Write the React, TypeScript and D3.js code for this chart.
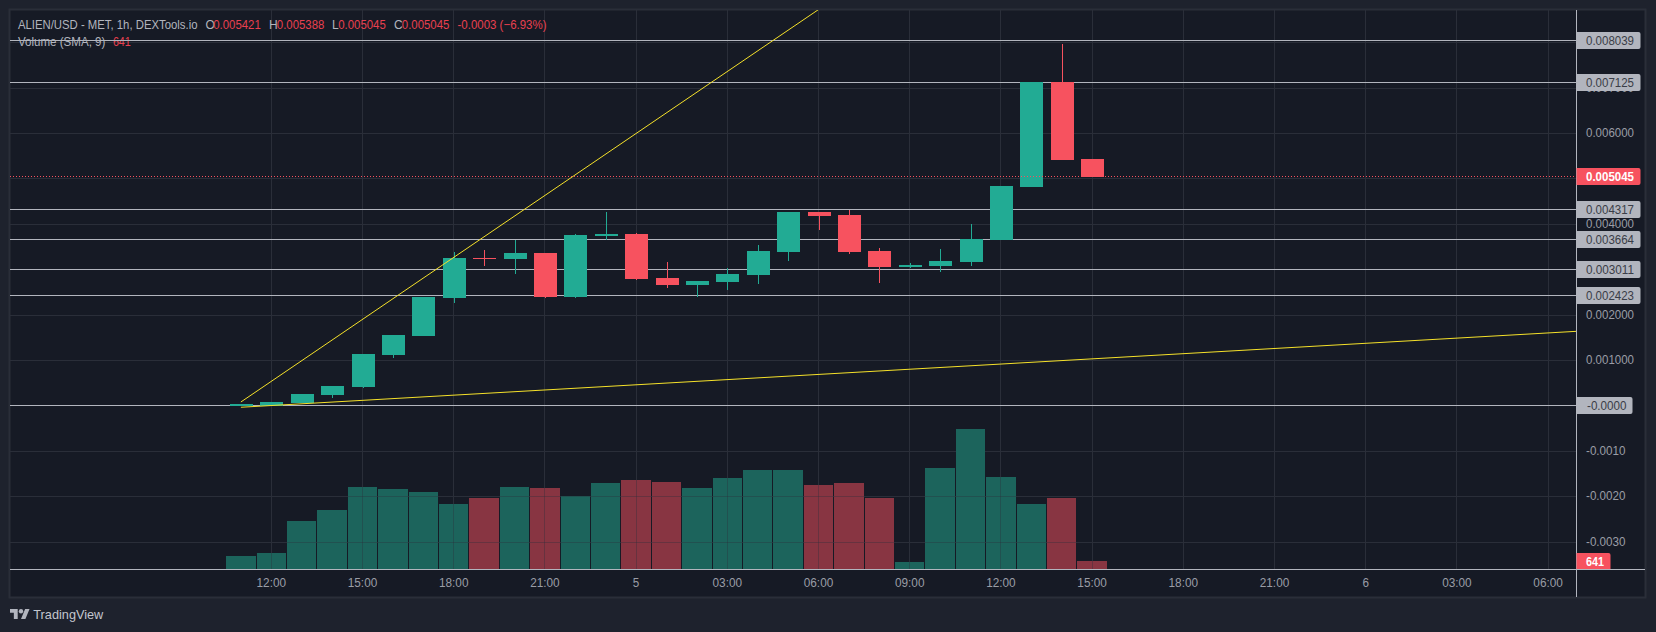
import React from "react";
import * as d3 from "d3";

// hours are offsets from 12:00 on the first day
const candleHours = [-1,0,1,2,3,4,5,6,7,8,9,10,11,12,13,14,15,16,17,18,19,20,21,22,23,24,25,26,27];
const opens  = [0.000000,0.000000,0.000064,0.000240,0.000416,0.001121,0.001540,0.002383,0.003255,0.003236,0.003368,0.002399,0.003742,0.003786,0.002817,0.002663,0.002729,0.002883,0.003390,0.004271,0.004205,0.003412,0.003059,0.003081,0.003170,0.003654,0.004822,0.007134,0.005445];
const highs  = [0.000050,0.000086,0.000262,0.000438,0.001143,0.001562,0.002399,0.003390,0.003434,0.003654,0.003368,0.003786,0.004271,0.003808,0.003170,0.002751,0.003038,0.003544,0.004271,0.004271,0.004315,0.003478,0.003148,0.003456,0.004007,0.004844,0.007134,0.007971,0.005445];
const lows   = [0.000000,0.000000,0.000064,0.000174,0.000394,0.001055,0.001540,0.002273,0.003081,0.002912,0.002377,0.002377,0.003654,0.002773,0.002597,0.002399,0.002553,0.002685,0.003192,0.003874,0.003346,0.002707,0.003037,0.002949,0.003081,0.003654,0.004822,0.005416,0.005045];
const closes = [0.000042,0.000086,0.000262,0.000438,0.001143,0.001562,0.002399,0.003258,0.003245,0.003368,0.002399,0.003764,0.003786,0.002795,0.002663,0.002751,0.002905,0.003412,0.004271,0.004183,0.003390,0.003059,0.003103,0.003192,0.003676,0.004844,0.007134,0.005416,0.005045];
const volumes = [1040,1280,3840,4720,6560,6400,6160,5200,5680,6560,6480,5840,6880,7120,6960,6480,7280,7920,7920,6720,6880,5680,560,8080,11200,7360,5200,5680,641];

const priceTicks = [0.008,0.007,0.006,0.005,0.004,0.003,0.002,0.001,0,-0.001,-0.002,-0.003];
const priceTickLabels = ["0.008000","0.007000","0.006000","0.005000","0.004000","0.003000","0.002000","0.001000","","-0.0010","-0.0020","-0.0030"];
const levelPrices = [0.008039,0.007125,0.004317,0.003664,0.003011,0.002423,0];
const levelLabels = ["0.008039","0.007125","0.004317","0.003664","0.003011","0.002423","-0.0000"];
const lastPrice = 0.005045;
const lastPriceLabel = "0.005045";
const lastVolumeLabel = "641";

const timeTickHours = [0,3,6,9,12,15,18,21,24,27,30,33,36,39,42];
const timeTickLabels = ["12:00","15:00","18:00","21:00","5","03:00","06:00","09:00","12:00","15:00","18:00","21:00","6","03:00","06:00"];

const trendSteepHours = [-1,20];
const trendSteepPrices = [0.000086,0.00964];
const trendFlatHours = [-1,42.94];
const trendFlatPrices = [-0.00003,0.001643];

const C = {
  page: "#1e222d", pane: "#161a25", grid: "#2a2e39", axis: "#b2b5be", text: "#9a9da6",
  up: "#22ab94", down: "#f7525f", upVol: "#1c645c", downVol: "#883542", yellow: "#f5e12a",
  legendRed: "#e8404f", boxText: "#3a3d47",
};
const FONT = "'Liberation Sans', Arial, sans-serif";

const L = 10, R = 1577, TOP = 10, B = 597, AXISY = 569, FR = 1645;

const x = d3.scaleLinear().domain([0, 42]).range([271.3, 1548.1]);
const y = d3.scaleLinear().domain([0, 0.008]).range([405.9, 42.7]);
const vol = d3.scaleLinear().domain([0, 11200]).range([AXISY, AXISY - 140]);
const snap = (v: number) => Math.round(v - 0.5) + 0.5;

const trendLine = d3.line<[number, number]>().x((d) => x(d[0])).y((d) => y(d[1]));

// text squeezed to the width it has in the reference
function T({ px, py, w, children, fill, size = 12.5, weight }: any) {
  return (
    <text x={px} y={py} fill={fill} fontSize={size} fontFamily={FONT} fontWeight={weight}
      textLength={w} lengthAdjust="spacingAndGlyphs">{children}</text>
  );
}

const axisWidth = (s: string) => (s.length === 8 ? 48 : s.length === 7 ? 39.5 : 18);

export default function App() {
  const ohlc = [
    ["O", "0.005421", 205.4, 213.2],
    ["H", "0.005388", 269, 276.8],
    ["L", "0.005045", 332, 338.2],
    ["C", "0.005045", 393.9, 401.8],
  ] as const;
  return (
    <svg width={1656} height={632} style={{ position: "absolute", left: 0, top: 0, display: "block" }}>
      <defs>
        <clipPath id="pane"><rect x={L} y={TOP} width={R - L} height={AXISY - TOP} /></clipPath>
      </defs>
      <rect width={1656} height={632} fill={C.page} />
      <rect x={L - 0.5} y={TOP - 0.5} width={FR - L + 1} height={B - TOP + 1} fill={C.pane} stroke={C.grid} strokeWidth={2} />

      {/* grid */}
      <g stroke={C.grid} strokeWidth={1} shapeRendering="crispEdges">
        {priceTicks.map((p) => <line key={p} x1={L} x2={R} y1={snap(y(p))} y2={snap(y(p))} />)}
        {timeTickHours.map((h) => <line key={h} x1={snap(x(h))} x2={snap(x(h))} y1={TOP} y2={AXISY} />)}
      </g>

      {/* volume */}
      <g shapeRendering="crispEdges">
        {volumes.map((v, i) => (
          <rect key={i} x={x(candleHours[i]) - 14.7} width={29.4} y={vol(v)} height={AXISY - vol(v)}
            fill={closes[i] >= opens[i] ? C.upVol : C.downVol} />
        ))}
      </g>
      <g stroke={C.grid} strokeOpacity={0.35} strokeWidth={1} shapeRendering="crispEdges">
        {timeTickHours.map((h) => <line key={h} x1={snap(x(h))} x2={snap(x(h))} y1={400} y2={AXISY} />)}
        {[-0.002, -0.003].map((p) => <line key={p} x1={L} x2={R} y1={snap(y(p))} y2={snap(y(p))} />)}
      </g>

      {/* legend sits under the drawn levels */}
      <T px={17.9} py={29} w={179.6} fill={C.axis}>ALIEN/USD - MET, 1h, DEXTools.io</T>
      {ohlc.map(([k, v, kx, vx]) => (
        <g key={k}>
          <T px={kx} py={29} fill={C.axis} size={12}>{k}</T>
          <T px={vx} py={29} w={47.6} fill={C.legendRed}>{v}</T>
        </g>
      ))}
      <T px={457.5} py={29} w={89} fill={C.legendRed}>-0.0003 (−6.93%)</T>
      <T px={17.9} py={46} w={87.5} fill={C.axis}>Volume (SMA, 9)</T>
      <T px={112.9} py={46} w={17.9} fill={C.legendRed}>641</T>

      {/* levels */}
      <g stroke={C.axis} strokeWidth={1} shapeRendering="crispEdges">
        {levelPrices.map((p) => <line key={p} x1={L} x2={R} y1={snap(y(p))} y2={snap(y(p))} />)}
      </g>

      {/* candles */}
      <g shapeRendering="crispEdges">
        {candleHours.map((h, i) => {
          const up = closes[i] >= opens[i];
          const col = up ? C.up : C.down;
          const top = y(Math.max(opens[i], closes[i]));
          const bot = y(Math.min(opens[i], closes[i]));
          const cx = Math.round(x(h));
          return (
            <g key={i}>
              <line x1={cx + 0.5} x2={cx + 0.5} y1={y(highs[i])} y2={y(lows[i])} stroke={col} strokeWidth={1} />
              <rect x={cx - 11} width={23} y={top} height={Math.max(bot - top, 1)} fill={col} />
            </g>
          );
        })}
      </g>

      {/* trend lines */}
      <g clipPath="url(#pane)" fill="none" stroke={C.yellow} strokeWidth={1}>
        <path d={trendLine(trendSteepHours.map((h, i) => [h, trendSteepPrices[i]] as [number, number])) ?? ""} />
        <path d={trendLine(trendFlatHours.map((h, i) => [h, trendFlatPrices[i]] as [number, number])) ?? ""} />
      </g>

      {/* last price */}
      <line x1={L} x2={R} y1={snap(y(lastPrice))} y2={snap(y(lastPrice))} stroke={C.down} strokeWidth={1} strokeDasharray="1 2" shapeRendering="crispEdges" />

      {/* axes */}
      <g stroke={C.axis} strokeWidth={1} shapeRendering="crispEdges">
        <line x1={L} x2={FR} y1={AXISY + 0.5} y2={AXISY + 0.5} />
        <line x1={R - 0.5} x2={R - 0.5} y1={TOP} y2={B} />
      </g>

      {/* price axis */}
      {priceTicks.map((p, i) =>
        priceTickLabels[i] ? (
          <T key={p} px={1586} py={y(p) + 3.6} w={axisWidth(priceTickLabels[i])} fill={C.text}>{priceTickLabels[i]}</T>
        ) : null
      )}
      {levelPrices.map((p, i) => {
        const w = levelLabels[i].length === 8 ? 64 : 56;
        const cy = snap(y(p));
        return (
          <g key={p}>
            <path d={`M${R - 0.5},${cy - 8.5}h${w - 2}a2,2 0 0 1 2,2v13a2,2 0 0 1 -2,2h${-(w - 2)}z`} fill={C.axis} />
            <T px={levelLabels[i].length === 8 ? 1586 : 1587} py={cy + 4.3} w={axisWidth(levelLabels[i])} fill={C.boxText}>{levelLabels[i]}</T>
          </g>
        );
      })}
      <path d={`M${R - 0.5},${snap(y(lastPrice)) - 8.5}h62a2,2 0 0 1 2,2v13a2,2 0 0 1 -2,2h-62z`} fill={C.down} />
      <T px={1586} py={snap(y(lastPrice)) + 4.3} w={48} fill="#ffffff" weight="bold">{lastPriceLabel}</T>
      <path d={`M${R - 0.5},553h32a2,2 0 0 1 2,2v14h-34z`} fill={C.down} />
      <T px={1586} py={565.5} w={18} fill="#ffffff" weight="bold">{lastVolumeLabel}</T>

      {/* time axis */}
      {timeTickHours.map((h, i) => {
        const s = timeTickLabels[i];
        const w = s.length === 1 ? 6.5 : 29.5;
        return <T key={h} px={x(h) - w / 2} py={587} w={w} fill={C.text}>{s}</T>;
      })}

      {/* TradingView mark */}
      <g transform="translate(10,606.8) scale(0.55)" fill={C.axis}>
        <path d="M14 22H7V11H0V4h14v18zM28 22h-8l7.5-18h8L28 22z" />
        <circle cx={20} cy={8} r={4} />
      </g>
      <T px={33.3} py={618.7} w={70} fill="#c3c6ce" size={13.5}>TradingView</T>
    </svg>
  );
}
